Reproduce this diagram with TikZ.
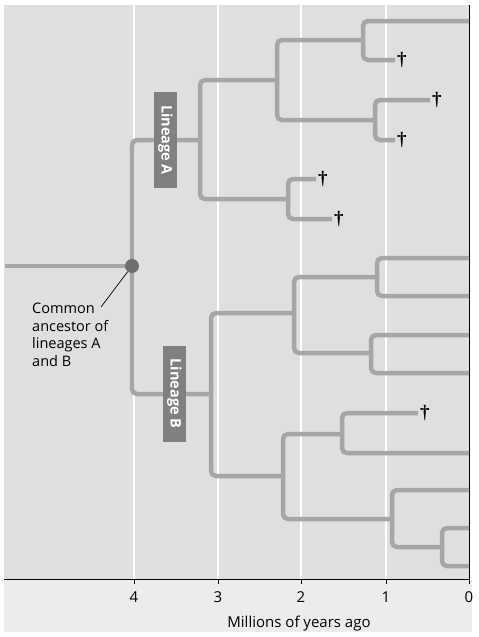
\documentclass[tikz,border=0pt]{standalone}
\usepackage{fontspec}
\setmainfont{Open Sans}
\newfontfamily\daggerfont{Liberation Serif}

\definecolor{plotColor}{RGB}{223,223,223}
\definecolor{bandColor}{RGB}{236,236,236}
\definecolor{branchColor}{RGB}{166,166,166}
\definecolor{boxColor}{RGB}{128,128,128}
\definecolor{dotColor}{RGB}{110,110,110}

\tikzset{
  branch/.style={draw=branchColor, line width=4.5pt, rounded corners=5pt},
  extinct/.style={anchor=west, inner sep=2pt, font=\daggerfont\bfseries\fontsize{19}{19}\selectfont},
  lineage/.style={fill=boxColor, text=white, rotate=-90, minimum width=96pt,
    minimum height=23pt, inner sep=0pt, font=\bfseries\fontsize{14.5}{14.5}\selectfont},
  ticklabel/.style={font=\fontsize{15}{15}\selectfont},
}

\begin{document}
\begin{tikzpicture}[x=1pt,y=-1pt]
  \useasboundingbox (0,0) rectangle (479,637);
  % Background
  \fill[plotColor] (4,5) rectangle (469,579);
  \fill[bandColor] (4,579) rectangle (472,632);
  \foreach \x in {134,218,301,386}
    \draw[white, line width=1.5pt] (\x,5) -- (\x,579);
  % Axis
  \draw[line width=0.8pt] (4,579) -- (469,579) -- (469,5);
  \foreach \x/\t in {134/4,218/3,301/2,386/1,469/0} {
    \draw[line width=0.8pt] (\x,579) -- (\x,584);
    \node[ticklabel] (tick\t) at (\x,597) {\t};
  }
  \node[anchor=base, font=\fontsize{15}{15}\selectfont] (axisTitle) at (299,627) {Millions of years ago};

  % Nodes of the tree
  \coordinate (rootL) at (5,266);
  \coordinate (anc) at (132,266);
  \coordinate (lA) at (200,140);
  \coordinate (lA1) at (277,80);
  \coordinate (lA11) at (363,40);
  \coordinate (lA12) at (375,120);
  \coordinate (lA2) at (288,199);
  \coordinate (tipA1) at (469,21);
  \coordinate (tipA2) at (395,60);
  \coordinate (tipA3) at (430,100);
  \coordinate (tipA4) at (395,140);
  \coordinate (tipA5) at (316,179);
  \coordinate (tipA6) at (332,219);
  \coordinate (lB) at (211,394);
  \coordinate (lB1) at (294,313);
  \coordinate (lB11) at (377,277);
  \coordinate (lB12) at (371,353);
  \coordinate (lB2) at (283,476);
  \coordinate (lB21) at (342,434);
  \coordinate (lB22) at (392,519);
  \coordinate (lB221) at (442,547);
  \coordinate (tipB1) at (469,258);
  \coordinate (tipB2) at (469,296);
  \coordinate (tipB3) at (469,335);
  \coordinate (tipB4) at (469,373);
  \coordinate (tipB5) at (418,413);
  \coordinate (tipB6) at (469,453);
  \coordinate (tipB7) at (469,490);
  \coordinate (tipB8) at (469,528);
  \coordinate (tipB9) at (469,566);

  % Branches
  \draw[branch] (rootL) -- (anc);
  \draw[branch] (anc) |- (lA);
  \draw[branch] (anc) |- (lB);
  % Lineage A
  \draw[branch] (lA) |- (lA1);
  \draw[branch] (lA) |- (lA2);
  \draw[branch] (lA1) |- (lA11);
  \draw[branch] (lA1) |- (lA12);
  \draw[branch] (lA11) |- (tipA1);
  \draw[branch] (lA11) |- (tipA2);
  \draw[branch] (lA12) |- (tipA3);
  \draw[branch] (lA12) |- (tipA4);
  \draw[branch] (lA2) |- (tipA5);
  \draw[branch] (lA2) |- (tipA6);
  % Lineage B
  \draw[branch] (lB) |- (lB1);
  \draw[branch] (lB) |- (lB2);
  \draw[branch] (lB1) |- (lB11);
  \draw[branch] (lB1) |- (lB12);
  \draw[branch] (lB11) |- (tipB1);
  \draw[branch] (lB11) |- (tipB2);
  \draw[branch] (lB12) |- (tipB3);
  \draw[branch] (lB12) |- (tipB4);
  \draw[branch] (lB2) |- (lB21);
  \draw[branch] (lB2) |- (lB22);
  \draw[branch] (lB21) |- (tipB5);
  \draw[branch] (lB21) |- (tipB6);
  \draw[branch] (lB22) |- (tipB7);
  \draw[branch] (lB22) |- (lB221);
  \draw[branch] (lB221) |- (tipB8);
  \draw[branch] (lB221) |- (tipB9);

  % Extinct tips
  \foreach \t in {A2,A3,A4,A5,A6,B5}
    \node[extinct] (dag\t) at (tip\t) {†};

  % Lineage labels
  \node[lineage] (labelA) at (165.5,140) {Lineage A};
  \node[lineage] (labelB) at (174.5,393.5) {Lineage B};

  % Common ancestor
  \node[circle, fill=dotColor, minimum size=14pt, inner sep=0pt] (ancDot) at (anc) {};
  \coordinate (ptr) at (101,307);
  \draw[line width=0.7pt] (ptr) -- (ancDot);
  \node[anchor=north west, inner sep=0pt, align=left, font=\fontsize{14.5}{17.5}\selectfont]
    (ancText) at (32,303) {Common\\ancestor of\\lineages A\\and B};
\end{tikzpicture}
\end{document}
